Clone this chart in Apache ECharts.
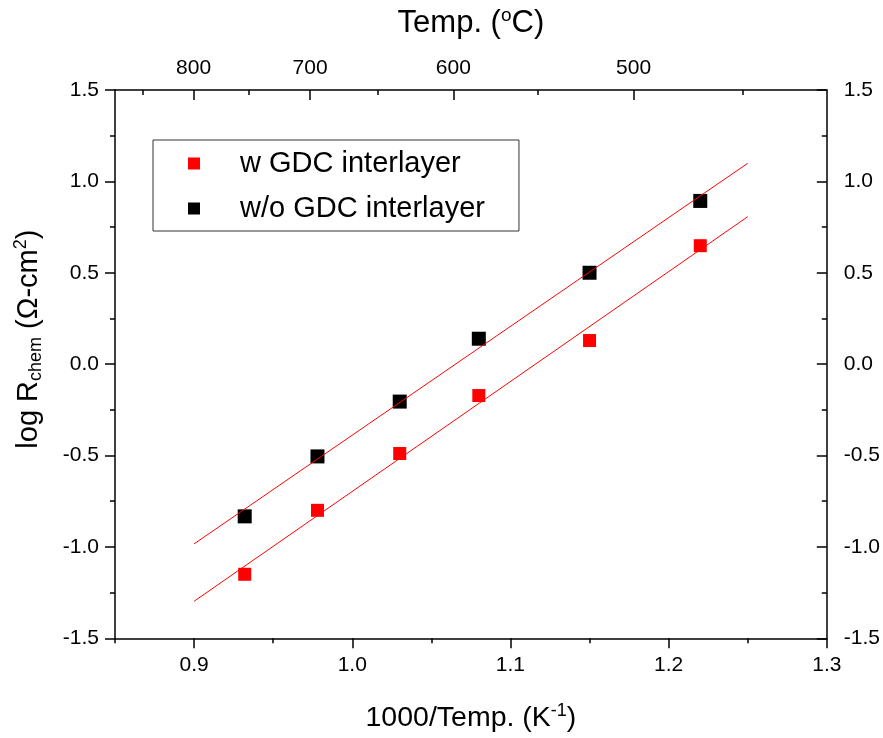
<!DOCTYPE html>
<html>
	<head>
		<meta charset="UTF-8">
		<title></title>
		<script src="https://cdn.jsdelivr.net/npm/echarts@6/dist/echarts.min.js" type="text/javascript" charset="utf-8"></script>
	</head>
	<body style="margin:0;background:#fff;">
		<div id="chart" style="width: 883px;height: 738px;"></div>
		<script type="text/javascript">
			// 1000/T (K^-1) of each measurement
			var invTemp = [0.932, 0.978, 1.03, 1.08, 1.15, 1.22];
			var withGdc = [-1.15, -0.80, -0.489, -0.172, 0.129, 0.648];
			var withoutGdc = [-0.833, -0.505, -0.205, 0.139, 0.50, 0.893];
			var fitRange = [0.9, 1.25];
			var bottomMajor = [0.9, 1.0, 1.1, 1.2, 1.3];
			var topLabels = [800, 700, 600, 500];
			var topMinor = [850, 750, 650, 550, 450];

			// top axis as drawn in the original: x = 0.769 * 1000/(T+273) + 0.183
			function topPos(t) {
				return 0.769 * 1000 / (t + 273) + 0.183;
			}
			var topMajorPos = topLabels.map(topPos);
			var topMinorPos = topMinor.map(topPos);

			function pairs(xs, ys) {
				return xs.map((v, i) => [v, ys[i]]);
			}
			// least squares line, drawn over fitRange
			function fitLine(xs, ys) {
				var n = xs.length, mx = 0, my = 0;
				xs.forEach((v, i) => { mx += v / n; my += ys[i] / n; });
				var sxy = 0, sxx = 0;
				xs.forEach((v, i) => { sxy += (v - mx) * (ys[i] - my); sxx += (v - mx) * (v - mx); });
				var b = sxy / sxx;
				return fitRange.map(x => [x, my + b * (x - mx)]);
			}

			var font = 'Arial, "Liberation Sans", sans-serif';
			var black = '#000';
			var line = {color: black, width: 1.5};
			// rich text pieces for the axis titles (sup/sub raised/lowered via line height)
			function titleRich(size) {
				return {
					t: {fontSize: size, lineHeight: size + 4, color: black, fontFamily: font},
					sup: {fontSize: Math.round(size * 0.62), lineHeight: 14, color: black, fontFamily: font, verticalAlign: 'top'},
					supo: {fontSize: Math.round(size * 0.62), lineHeight: 8, color: black, fontFamily: font, verticalAlign: 'top'},
					sub: {fontSize: Math.round(size * 0.62), lineHeight: 18, color: black, fontFamily: font, verticalAlign: 'bottom'}
				};
			}
			var chart = echarts.init(document.getElementById('chart'));
			var baseX = {
				type: 'value', min: 0.85, max: 1.3,
				splitLine: {show: false},
				axisLine: {show: false, onZero: false}
			};
			var option = {
				animation: false,
				textStyle: {fontFamily: font, color: black},
				grid: {left: 115, right: 55, top: 90, bottom: 99},
				legend: {
					orient: 'vertical',
					left: 153, top: 140,
					padding: [9, 34, 8, 35],
					itemGap: 16,
					itemWidth: 12, itemHeight: 12,
					borderColor: '#333', borderWidth: 1,
					textStyle: {fontSize: 29, lineHeight: 28, color: black, padding: [0, 0, 0, 35], fontFamily: font},
					data: [
						{name: 'w GDC interlayer', icon: 'rect'},
						{name: 'w/o GDC interlayer', icon: 'rect'}
					]
				},
				xAxis: [
					// bottom, main axis with labels + minor ticks
					Object.assign({}, baseX, {
						position: 'bottom',
						interval: 0.05,
						axisLine: {show: true, onZero: false, lineStyle: line},
						axisTick: {show: true, length: 5, lineStyle: line},
						axisLabel: {
							customValues: bottomMajor,
							fontSize: 21, color: black, margin: 16,
							formatter: v => v.toFixed(1)
						},
						name: '{t|1000/Temp. (K}{sup|-1}{t|)}',
						nameLocation: 'middle',
						nameGap: 64,
						nameTextStyle: {rich: titleRich(28.5)}
					}),
					// bottom, major ticks
					Object.assign({}, baseX, {
						position: 'bottom',
						axisTick: {show: true, length: 10, customValues: bottomMajor, lineStyle: line},
						axisLabel: {show: false}
					}),
					// top, temperature labels + major ticks (pointing in)
					Object.assign({}, baseX, {
						position: 'top',
						axisLine: {show: true, onZero: false, lineStyle: line},
						axisTick: {show: true, inside: true, length: 10, customValues: topMajorPos, lineStyle: line},
						axisLabel: {
							customValues: topMajorPos,
							fontSize: 21, color: black, margin: 11,
							formatter: v => {
								var i = topMajorPos.findIndex(p => Math.abs(p - v) < 1e-6);
								return i < 0 ? '' : String(topLabels[i]);
							}
						},
						name: '{t|Temp. (}{supo|o}{t|C)}',
						nameLocation: 'middle',
						nameGap: 49,
						nameTextStyle: {rich: titleRich(31)}
					}),
					// top, minor ticks
					Object.assign({}, baseX, {
						position: 'top',
						axisTick: {show: true, inside: true, length: 5, customValues: topMinorPos, lineStyle: line},
						axisLabel: {show: false}
					})
				],
				yAxis: [
					{
						type: 'value', min: -1.5, max: 1.5, interval: 0.5,
						position: 'left',
						splitLine: {show: false},
						axisLine: {show: true, onZero: false, lineStyle: line},
						axisTick: {show: true, length: 10, lineStyle: line},
						minorTick: {show: true, splitNumber: 2, length: 5, lineStyle: line},
						axisLabel: {fontSize: 21, color: black, margin: 16, formatter: v => v.toFixed(1)},
						name: '{t|log R}{sub|chem}{t| (\u03A9-cm}{sup|2}{t|)}',
						nameLocation: 'middle',
						nameGap: 70,
						nameTextStyle: {
							padding: [0, 0, 0, 50],
							rich: titleRich(29)
						}
					},
					{
						type: 'value', min: -1.5, max: 1.5, interval: 0.5,
						position: 'right',
						splitLine: {show: false},
						axisLine: {show: true, onZero: false, lineStyle: line},
						axisTick: {show: true, inside: true, length: 10, lineStyle: line},
						minorTick: {show: true, splitNumber: 2, length: 5, lineStyle: line},
						axisLabel: {fontSize: 21, color: black, margin: 17, formatter: v => v.toFixed(1)}
					}
				],
				series: [
					{
						name: 'w GDC interlayer fit', type: 'line',
						data: fitLine(invTemp, withGdc),
						showSymbol: false, symbol: 'none', silent: true,
						lineStyle: {color: '#ff0000', width: 1}
					},
					{
						name: 'w/o GDC interlayer fit', type: 'line',
						data: fitLine(invTemp, withoutGdc),
						showSymbol: false, symbol: 'none', silent: true,
						lineStyle: {color: '#ff0000', width: 1}
					},
					{
						name: 'w GDC interlayer', type: 'scatter',
						data: pairs(invTemp, withGdc),
						symbol: 'rect', symbolSize: 13,
						itemStyle: {color: '#ff0000', opacity: 1}
					},
					{
						name: 'w/o GDC interlayer', type: 'scatter',
						data: pairs(invTemp, withoutGdc),
						symbol: 'rect', symbolSize: 14,
						itemStyle: {color: '#000000', opacity: 1}
					}
				]
			};
			chart.setOption(option, true);
		</script>
	</body>
</html>
